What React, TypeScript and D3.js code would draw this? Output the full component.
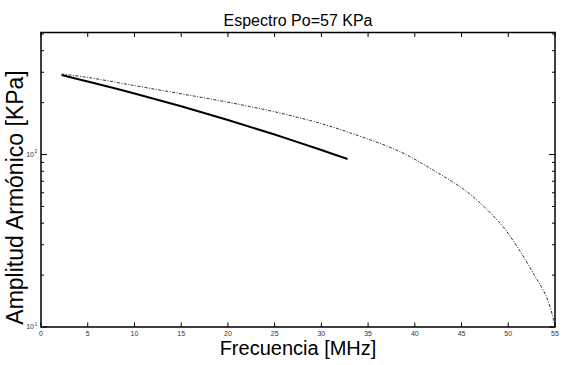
import React from "react";
import * as d3 from "d3";

const title = "Espectro Po=57 KPa";
const xLabel = "Frecuencia [MHz]";
const yLabel = "Amplitud Armónico [KPa]";

const xTicks = [0, 5, 10, 15, 20, 25, 30, 35, 40, 45, 50, 55];
const yMajorTicks = [10, 100];
const yMinorTicks = [20, 30, 40, 50, 60, 70, 80, 90, 200, 300, 400, 500];

// solid series (frequency MHz, amplitude KPa)
const solidFreq = [2.2, 5, 10, 15, 20, 25, 30, 32.8];
const solidAmp = [289, 265, 226, 190.5, 158.7, 130.6, 106.2, 94.2];

// dash-dot series
const dashFreq = [2.2, 5, 10, 15, 20, 25, 30, 33, 38.4, 42, 45.6, 49.1, 50.9, 52.6, 54.1, 54.9, 55];
const dashAmp = [293, 280, 251, 225, 201, 177, 151, 134, 104, 81, 60.7, 40.1, 29.5, 20.8, 14.9, 10.7, 10];

const W = 577;
const H = 365;
const L = 41, R = 555, T = 32.5, B = 327;
const FONT = "'Liberation Sans', Arial, Helvetica, sans-serif";

export default function App() {
  const x = d3.scaleLinear().domain([0, 55]).range([L, R]);
  const y = d3.scaleLog().domain([10, 510]).range([B, T]);

  const line = d3
    .line<[number, number]>()
    .x((d) => x(d[0]))
    .y((d) => y(d[1]))
    .curve(d3.curveCatmullRom.alpha(0.5));

  const solid = solidFreq.map((f, i) => [f, solidAmp[i]] as [number, number]);
  const dash = dashFreq.map((f, i) => [f, dashAmp[i]] as [number, number]);

  const tickLen = 4.5;
  const minorLen = 3;

  return (
    <svg
      width={W}
      height={H}
      style={{ position: "absolute", left: 0, top: 0, background: "#fff" }}
      fontFamily={FONT}
    >
      <rect x={0} y={0} width={W} height={H} fill="#fff" />
      {/* curves */}
      <path d={line(dash) || ""} fill="none" stroke="#333" strokeWidth={1} strokeDasharray="3,1.5,1,1.5" />
      <path d={line(solid) || ""} fill="none" stroke="#000" strokeWidth={2} />

      {/* x ticks */}
      {xTicks.map((t) => (
        <g key={"x" + t}>
          <line x1={x(t)} x2={x(t)} y1={B} y2={B - tickLen} stroke="#000" strokeWidth={1} />
          <line x1={x(t)} x2={x(t)} y1={T} y2={T + tickLen} stroke="#000" strokeWidth={1} />
          <text x={x(t)} y={335.5} fontSize={7} textAnchor="middle" fill="#333">
            {t}
          </text>
        </g>
      ))}

      {/* y ticks */}
      {yMajorTicks.map((t) => (
        <g key={"ym" + t}>
          <line x1={L} x2={L + 6} y1={y(t)} y2={y(t)} stroke="#000" strokeWidth={1} />
          <line x1={R} x2={R - 6} y1={y(t)} y2={y(t)} stroke="#000" strokeWidth={1} />
          <text x={34} y={y(t) + 2} fontSize={7} textAnchor="end" fill="#333">
            10
          </text>
          <text x={34.5} y={y(t) - 1.5} fontSize={5} textAnchor="start" fill="#333">
            {Math.round(Math.log10(t))}
          </text>
        </g>
      ))}
      {yMinorTicks.map((t) => (
        <g key={"yn" + t}>
          <line x1={L} x2={L + minorLen} y1={y(t)} y2={y(t)} stroke="#000" strokeWidth={1} />
          <line x1={R} x2={R - minorLen} y1={y(t)} y2={y(t)} stroke="#000" strokeWidth={1} />
        </g>
      ))}

      {/* box */}
      <rect x={L} y={T} width={R - L} height={B - T} fill="none" stroke="#000" strokeWidth={1.5} />

      {/* texts */}
      <text x={(L + R) / 2} y={26} fontSize={16} textAnchor="middle" fill="#000">
        {title}
      </text>
      <text x={(L + R) / 2} y={355} fontSize={20} textAnchor="middle" fill="#000">
        {xLabel}
      </text>
      <text
        transform={`translate(23,197.5) rotate(-90)`}
        fontSize={23}
        textAnchor="middle"
        fill="#000"
      >
        {yLabel}
      </text>
    </svg>
  );
}
